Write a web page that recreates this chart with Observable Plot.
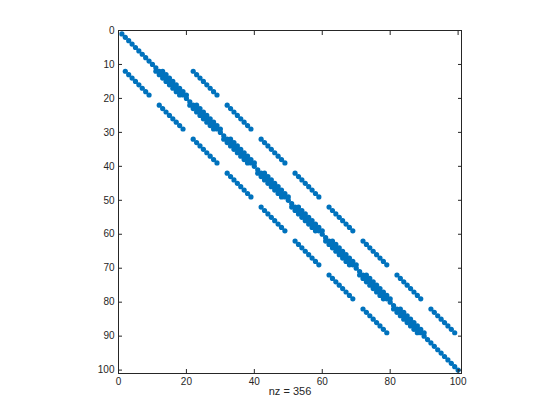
<!DOCTYPE html>
<html>
<head>
<meta charset="utf-8">
<script src="https://cdn.jsdelivr.net/npm/d3@7"></script>
<script src="https://cdn.jsdelivr.net/npm/@observablehq/plot@0.6"></script>
<style>
  html, body { margin: 0; padding: 0; background: #fff; }
  #chart { width: 560px; height: 420px; }
</style>
</head>
<body>
<div id="chart"></div>
<script>
// Rows of the 100x100 matrix that only have a diagonal entry
const boundaryRows = [1,2,3,4,5,6,7,8,9,10,11,20,21,30,31,40,41,50,51,60,61,70,71,80,81,90,91,92,93,94,95,96,97,98,99,100];
// Rows with the five-point stencil (diagonal, +-1, +-10)
const interiorRows = [12,13,14,15,16,17,18,19,22,23,24,25,26,27,28,29,32,33,34,35,36,37,38,39,42,43,44,45,46,47,48,49,52,53,54,55,56,57,58,59,62,63,64,65,66,67,68,69,72,73,74,75,76,77,78,79,82,83,84,85,86,87,88,89];
const stencilOffsets = [-10, -1, 0, 1, 10];
const xTicks = [0, 20, 40, 60, 80, 100];
const yTicks = [0, 10, 20, 30, 40, 50, 60, 70, 80, 90, 100];
const nzLabel = "nz = 356";

const entries = [];
for (const r of boundaryRows) entries.push({row: r, col: r});
for (const r of interiorRows) for (const o of stencilOffsets) entries.push({row: r, col: r + o});

const ink = "#262626";
const chart = Plot.plot({
  width: 560,
  height: 420,
  marginLeft: 118,
  marginRight: 99,
  marginTop: 30,
  marginBottom: 47,
  style: {fontFamily: "'Liberation Sans', Arial, Helvetica, sans-serif", fontSize: "10px", color: ink, background: "#fff"},
  x: {domain: [0, 101], ticks: xTicks},
  y: {domain: [0, 101], reverse: true, ticks: yTicks},
  marks: [
    Plot.dot(entries, {x: "col", y: "row", r: 2.6, fill: "#0072BD", stroke: "none"}),
    Plot.frame({stroke: ink, strokeWidth: 1}),
    Plot.axisX(xTicks, {anchor: "bottom", tickSize: -4, tickPadding: 8, label: null, stroke: ink, fill: ink}),
    Plot.axisX(xTicks, {anchor: "top", tickSize: -4, tickFormat: () => "", label: null, stroke: ink}),
    Plot.axisY(yTicks, {anchor: "left", tickSize: -4, tickPadding: 8, label: null, stroke: ink, fill: ink}),
    Plot.axisY(yTicks, {anchor: "right", tickSize: -4, tickFormat: () => "", label: null, stroke: ink}),
    Plot.text([nzLabel], {frameAnchor: "bottom", dy: 18, lineAnchor: "middle", text: d => d, fill: ink, fontSize: 11})
  ]
});
document.getElementById("chart").appendChild(chart);
</script>
</body>
</html>
